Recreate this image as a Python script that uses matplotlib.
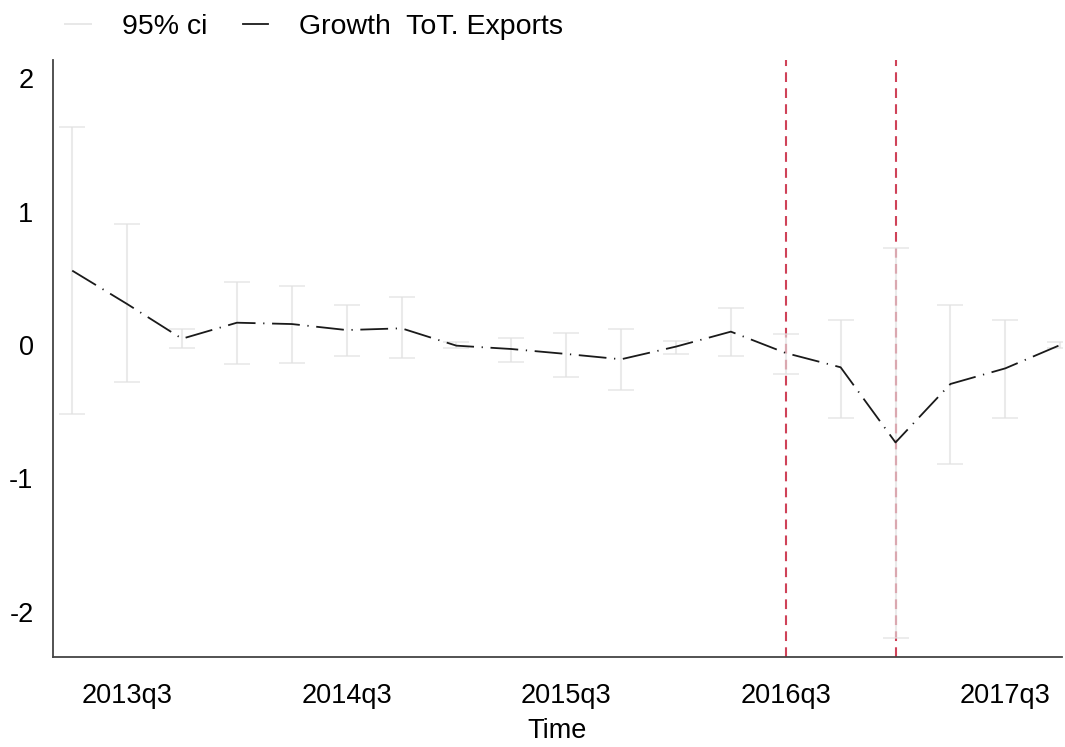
import matplotlib
matplotlib.use("Agg")
import matplotlib.pyplot as plt
from matplotlib.lines import Line2D
import numpy as np

plt.rcParams['font.family'] = ['Liberation Sans', 'DejaVu Sans']
plt.rcParams['lines.scale_dashes'] = False

quarters = ["2013q2", "2013q3", "2013q4", "2014q1", "2014q2", "2014q3", "2014q4",
            "2015q1", "2015q2", "2015q3", "2015q4", "2016q1", "2016q2", "2016q3",
            "2016q4", "2017q1", "2017q2", "2017q3", "2017q4"]
growth = [0.557, 0.307, 0.047, 0.167, 0.157, 0.112, 0.125,
          -0.005, -0.03, -0.067, -0.107, -0.012, 0.10, -0.06,
          -0.167, -0.73, -0.292, -0.175, 0.0]
ci_upper = [1.63, 0.906, 0.117, 0.47, 0.44, 0.30, 0.36,
            0.025, 0.055, 0.092, 0.122, 0.03, 0.28, 0.085,
            0.187, 0.724, 0.30, 0.187, 0.025]
ci_lower = [-0.517, -0.28, -0.022, -0.14, -0.133, -0.085, -0.10,
            -0.025, -0.13, -0.237, -0.337, -0.067, -0.08, -0.217,
            -0.544, -2.197, -0.894, -0.544, -0.025]
tick_labels = ["2013q3", "2014q3", "2015q3", "2016q3", "2017q3"]
event_quarters = ["2016q3", "2017q1"]

fig = plt.figure(figsize=(10.65, 7.47), dpi=100)
ax = fig.add_axes([0.0498, 0.1205, 0.9472, 0.7992])

x = np.arange(len(quarters))
g = np.array(growth)
up = np.array(ci_upper)
lo = np.array(ci_lower)

for q in event_quarters:
    ax.axvline(quarters.index(q), color='#cf4258', lw=1.5, ls=(0, (7, 4.5)), zorder=1)

ax.errorbar(x, g, yerr=[g - lo, up - g], fmt='none', ecolor='#e0e0e0', elinewidth=1.5,
            capsize=9.5, capthick=1.3, alpha=0.65, zorder=2)
ax.plot(x, g, color='#1a1a1a', lw=1.3, ls=(0, (20, 5.5, 0.9, 5.5)), zorder=3)

ax.set_xlim(-0.35, 18.03)
ax.set_ylim(-2.337, 2.135)
ax.set_xticks([quarters.index(t) for t in tick_labels])
ax.set_xticklabels(tick_labels)
ax.set_yticks([-2, -1, 0, 1, 2])
ax.set_yticklabels(["-2", "-1", "0", "1", "2"])
ax.tick_params(axis='both', length=0, labelsize=19.5)
ax.tick_params(axis='x', pad=19)
ax.tick_params(axis='y', pad=14)
ax.set_xlabel("Time", fontsize=19.5, labelpad=6)

for s in ['top', 'right']:
    ax.spines[s].set_visible(False)
for s in ['left', 'bottom']:
    ax.spines[s].set_color('#444444')
    ax.spines[s].set_linewidth(1.3)

h_ci = ax.errorbar([], [], xerr=[], fmt='none', ecolor='#d8d8d8', elinewidth=1.3,
                   capsize=8, capthick=1.2, alpha=0.65)
h_line = Line2D([], [], color='#1a1a1a', lw=1.3)
fig.legend([h_ci, h_line], ["95% ci", "Growth  ToT. Exports"], loc='upper left',
           bbox_to_anchor=(0.062, 0.981), ncol=2, frameon=False, fontsize=20.5,
           borderpad=0, borderaxespad=0,
           handlelength=0.85, handletextpad=1.1, columnspacing=1.28)

fig.savefig("out.png", dpi=100)
